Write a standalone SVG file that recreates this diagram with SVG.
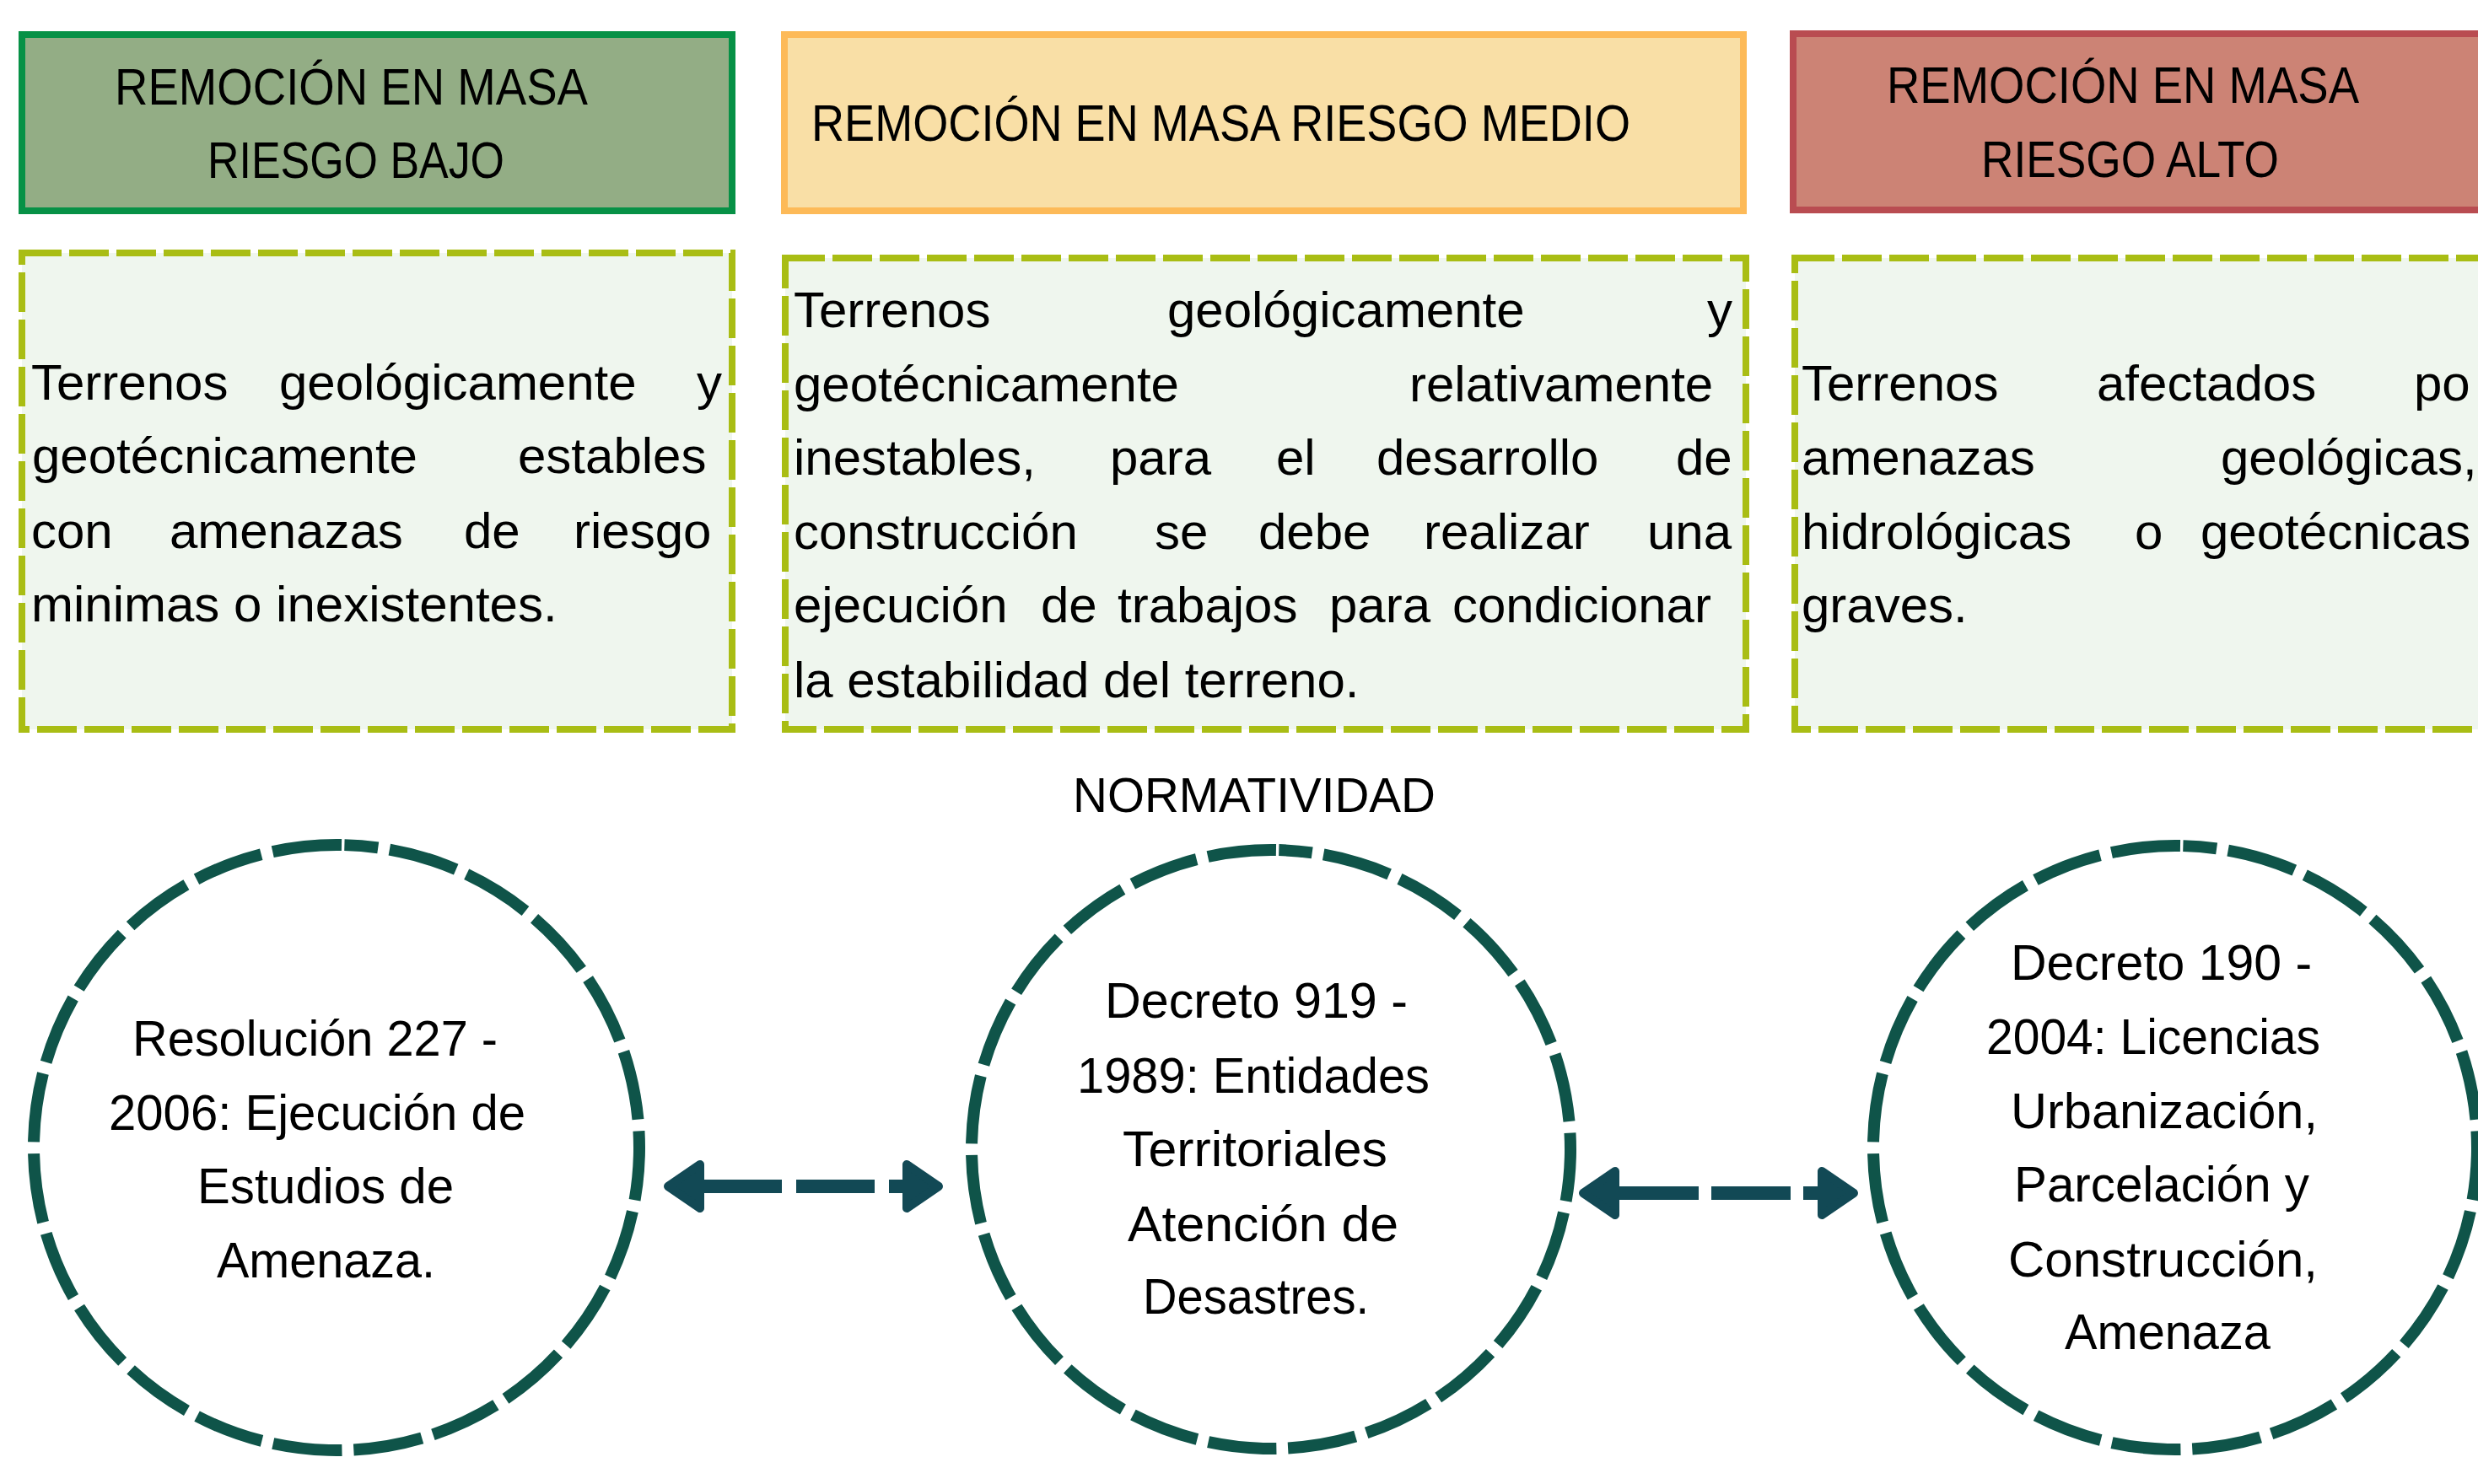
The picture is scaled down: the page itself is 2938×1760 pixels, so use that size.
<svg xmlns="http://www.w3.org/2000/svg" width="2938" height="1760" viewBox="0 0 2938 1760">
  <style>
    text { font-family: "Liberation Sans", Arial, sans-serif; fill: #000; }
    .hdr { font-size: 61px; }
    .body { font-size: 60px; }
    .circ { font-size: 60px; }
    .norm { font-size: 57px; }
    .hbox { stroke-width: 8; }
    .dbox { fill: #EFF6EE; stroke: #A9BD14; stroke-width: 8; stroke-dasharray: 47 9; }
    .ring { fill: #FFFFFF; stroke: #0F5449; stroke-width: 14; stroke-dasharray: 13.15 2.2; stroke-dashoffset: 6.75; }
    .conn { fill: none; stroke: #124955; stroke-width: 16; }
  </style>
  <defs>
    <marker id="head" markerUnits="userSpaceOnUse" markerWidth="60" markerHeight="80" viewBox="0 0 60 80" refX="30" refY="40" orient="auto-start-reverse">
      <polygon points="10,14 10,66 48,40" fill="#124955" stroke="#124955" stroke-width="10" stroke-linejoin="round"/>
    </marker>
  </defs>
  <rect width="2938" height="1760" fill="#FFFFFF"/>

  <g id="header-bajo">
    <rect class="hbox" x="26" y="41" width="842" height="209" fill="#93AD85" stroke="#079146"/>
    <text class="hdr" x="136" y="124" textLength="561" lengthAdjust="spacingAndGlyphs">REMOCIÓN EN MASA</text>
    <text class="hdr" x="246" y="211" textLength="352" lengthAdjust="spacingAndGlyphs">RIESGO BAJO</text>
  </g>
  <g id="header-medio">
    <rect class="hbox" x="930" y="41" width="1137" height="209" fill="#F9DFA6" stroke="#FDBA58"/>
    <text class="hdr" x="962" y="167" textLength="971" lengthAdjust="spacingAndGlyphs">REMOCIÓN EN MASA RIESGO MEDIO</text>
  </g>
  <g id="header-alto">
    <rect class="hbox" x="2126" y="40" width="850" height="209" fill="#CC8375" stroke="#B94C51"/>
    <text class="hdr" x="2237" y="122" textLength="560" lengthAdjust="spacingAndGlyphs">REMOCIÓN EN MASA</text>
    <text class="hdr" x="2349" y="210" textLength="353" lengthAdjust="spacingAndGlyphs">RIESGO ALTO</text>
  </g>

  <g id="desc-bajo">
    <rect class="dbox" x="26" y="300" width="842" height="565"/>
    <text class="body" y="474"><tspan x="37">Terrenos</tspan><tspan x="331">geológicamente</tspan><tspan x="826">y</tspan></text>
    <text class="body" y="561"><tspan x="38">geotécnicamente</tspan><tspan x="614">estables</tspan></text>
    <text class="body" y="650"><tspan x="37">con</tspan><tspan x="201">amenazas</tspan><tspan x="550">de</tspan><tspan x="680">riesgo</tspan></text>
    <text class="body" y="737"><tspan x="37">minimas o inexistentes.</tspan></text>
  </g>
  <g id="desc-medio">
    <rect class="dbox" x="931" y="306" width="1139" height="559"/>
    <text class="body" y="388"><tspan x="941">Terrenos</tspan><tspan x="1384">geológicamente</tspan><tspan x="2024">y</tspan></text>
    <text class="body" y="476"><tspan x="941">geotécnicamente</tspan><tspan x="1671">relativamente</tspan></text>
    <text class="body" y="563"><tspan x="941">inestables,</tspan><tspan x="1316">para</tspan><tspan x="1513">el</tspan><tspan x="1632">desarrollo</tspan><tspan x="1987">de</tspan></text>
    <text class="body" y="651"><tspan x="941">construcción</tspan><tspan x="1369">se</tspan><tspan x="1492">debe</tspan><tspan x="1688">realizar</tspan><tspan x="1953">una</tspan></text>
    <text class="body" y="738"><tspan x="941">ejecución</tspan><tspan x="1234">de</tspan><tspan x="1325">trabajos</tspan><tspan x="1576">para</tspan><tspan x="1722">condicionar</tspan></text>
    <text class="body" y="827"><tspan x="941">la estabilidad del terreno.</tspan></text>
  </g>
  <g id="desc-alto">
    <rect class="dbox" x="2128" y="306" width="850" height="559"/>
    <text class="body" y="475"><tspan x="2136">Terrenos</tspan><tspan x="2486">afectados</tspan><tspan x="2862">po</tspan></text>
    <text class="body" y="563"><tspan x="2136">amenazas</tspan><tspan x="2633">geológicas,</tspan></text>
    <text class="body" y="651"><tspan x="2136">hidrológicas</tspan><tspan x="2531">o</tspan><tspan x="2609">geotécnicas</tspan></text>
    <text class="body" y="738"><tspan x="2136">graves.</tspan></text>
  </g>

  <g id="label-normatividad">
    <text class="norm" x="1272" y="963" textLength="430" lengthAdjust="spacingAndGlyphs">NORMATIVIDAD</text>
  </g>

  <g id="connectors">
    <path class="conn" d="M 810 1407 H 1095" stroke-dasharray="93 17" stroke-dashoffset="86" marker-start="url(#head)" marker-end="url(#head)"/>
    <path class="conn" d="M 1895 1415 H 2180" stroke-dasharray="94 15" stroke-dashoffset="84" marker-start="url(#head)" marker-end="url(#head)"/>
  </g>

  <g id="node-resolucion-227">
    <circle class="ring" cx="399" cy="1361" r="359" pathLength="360" transform="rotate(271.5 399 1361)"/>
    <text class="circ" x="157" y="1252" textLength="433" lengthAdjust="spacingAndGlyphs">Resolución 227 -</text>
    <text class="circ" x="129" y="1340" textLength="494" lengthAdjust="spacingAndGlyphs">2006: Ejecución de</text>
    <text class="circ" x="234" y="1427" textLength="304" lengthAdjust="spacingAndGlyphs">Estudios de</text>
    <text class="circ" x="257" y="1515" textLength="259" lengthAdjust="spacingAndGlyphs">Amenaza.</text>
  </g>
  <g id="node-decreto-919">
    <circle class="ring" cx="1507" cy="1363" r="355" pathLength="360" transform="rotate(271.5 1507 1363)"/>
    <text class="circ" x="1310" y="1207" textLength="359" lengthAdjust="spacingAndGlyphs">Decreto 919 -</text>
    <text class="circ" x="1277" y="1296" textLength="418" lengthAdjust="spacingAndGlyphs">1989: Entidades</text>
    <text class="circ" x="1331" y="1383" textLength="314" lengthAdjust="spacingAndGlyphs">Territoriales</text>
    <text class="circ" x="1337" y="1472" textLength="321" lengthAdjust="spacingAndGlyphs">Atención de</text>
    <text class="circ" x="1355" y="1558" textLength="268" lengthAdjust="spacingAndGlyphs">Desastres.</text>
  </g>
  <g id="node-decreto-190">
    <circle class="ring" cx="2579" cy="1361" r="358" pathLength="360" transform="rotate(271.5 2579 1361)"/>
    <text class="circ" x="2384" y="1162" textLength="357" lengthAdjust="spacingAndGlyphs">Decreto 190 -</text>
    <text class="circ" x="2355" y="1250" textLength="396" lengthAdjust="spacingAndGlyphs">2004: Licencias</text>
    <text class="circ" x="2384" y="1338" textLength="364" lengthAdjust="spacingAndGlyphs">Urbanización,</text>
    <text class="circ" x="2388" y="1425" textLength="350" lengthAdjust="spacingAndGlyphs">Parcelación y</text>
    <text class="circ" x="2381" y="1514" textLength="367" lengthAdjust="spacingAndGlyphs">Construcción,</text>
    <text class="circ" x="2448" y="1600" textLength="244" lengthAdjust="spacingAndGlyphs">Amenaza</text>
  </g>
</svg>
